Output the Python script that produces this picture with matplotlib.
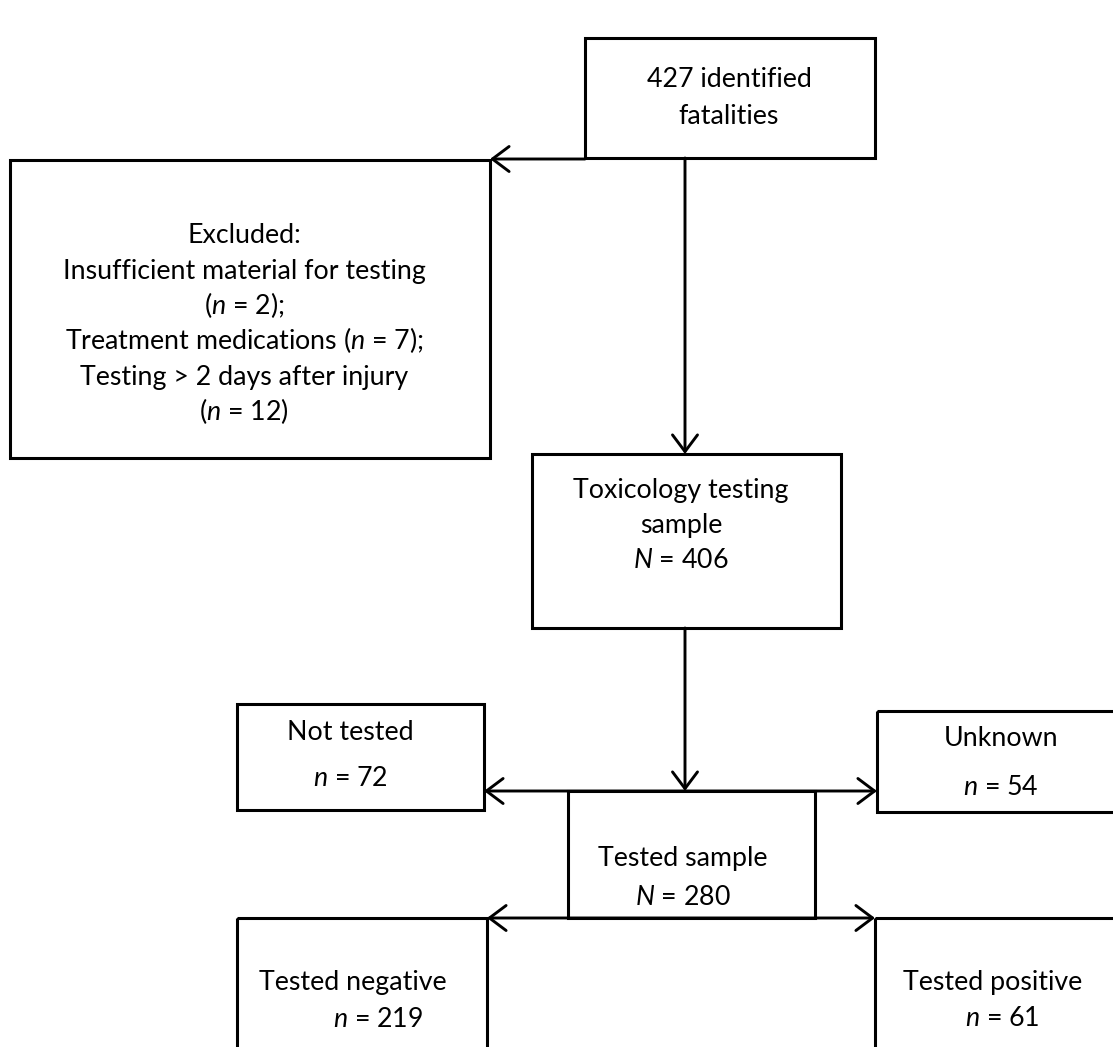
import matplotlib
matplotlib.use("Agg")
import matplotlib.pyplot as plt
from matplotlib.patches import Rectangle

plt.rcParams['font.family'] = ['Lato', 'DejaVu Sans']
plt.rcParams['mathtext.fontset'] = 'custom'
plt.rcParams['mathtext.rm'] = 'Lato'
plt.rcParams['mathtext.it'] = 'Lato:italic'

W, H = 1113, 1047
FS = 19.3

# ---- content ----
total_lines = ["427 identified", "fatalities"]
excluded_lines = ["Excluded:", "Insufficient material for testing", "($n$ = 2);",
                  "Treatment medications ($n$ = 7);", "Testing > 2 days after injury",
                  "($n$ = 12)"]
tox_lines = ["Toxicology testing", "sample", "$N$ = 406"]
not_tested_lines = ["Not tested", "$n$ = 72"]
unknown_lines = ["Unknown", "$n$ = 54"]
tested_lines = ["Tested sample", "$N$ = 280"]
negative_lines = ["Tested negative", "$n$ = 219"]
positive_lines = ["Tested positive", "$n$ = 61"]

fig = plt.figure(figsize=(W / 100, H / 100), dpi=100)
ax = fig.add_axes([0, 0, 1, 1])
ax.set_xlim(0, W)
ax.set_ylim(H, 0)
ax.axis('off')

LW = 2.2


def box(x0, y0, x1, y1):
    ax.add_patch(Rectangle((x0, y0), x1 - x0, y1 - y0, fill=False,
                           edgecolor='black', linewidth=LW, joinstyle='miter',
                           clip_on=True))


def lines(texts, xs, ys):
    if not isinstance(xs, (list, tuple)):
        xs = [xs] * len(texts)
    for t, x, y in zip(texts, xs, ys):
        ax.text(x, y, t, ha='center', va='baseline', fontsize=FS, color='black')


def arrow(p0, p1, style='->'):
    ax.annotate('', xy=p1, xytext=p0,
                arrowprops=dict(arrowstyle=style + ',head_length=0.6,head_width=0.45',
                                mutation_scale=20, lw=2.1, color='black',
                                shrinkA=0, shrinkB=0))


# boxes
box(585, 38, 875, 158)          # total
box(10, 160, 490, 458)          # excluded
box(532, 454, 841, 628)         # toxicology
box(237, 704, 484, 810)         # not tested
box(877, 711, 1130, 812)        # unknown
box(568, 791, 815, 918)         # tested sample
box(237, 918, 487, 1060)        # negative
box(875, 918, 1130, 1060)       # positive

# texts
lines(total_lines, 729, [87, 124])
lines(excluded_lines, 244, [243, 278.5, 314, 349.5, 385, 420.5])
lines(tox_lines, 681, [498, 533, 568])
lines(not_tested_lines, 350, [740, 786])
lines(unknown_lines, 1001, [746, 795])
lines(tested_lines, 683, [866, 905])
lines(negative_lines, [353, 378], [990, 1027])
lines(positive_lines, [993, 1002], [990, 1026])

# arrows
arrow((585, 159), (490, 159))
arrow((685, 158), (685, 454))
arrow((685, 628), (685, 791))
arrow((484, 791), (877, 791), '<->')
arrow((487, 918), (875, 918), '<->')

fig.savefig('out.png', dpi=100, facecolor='white')
